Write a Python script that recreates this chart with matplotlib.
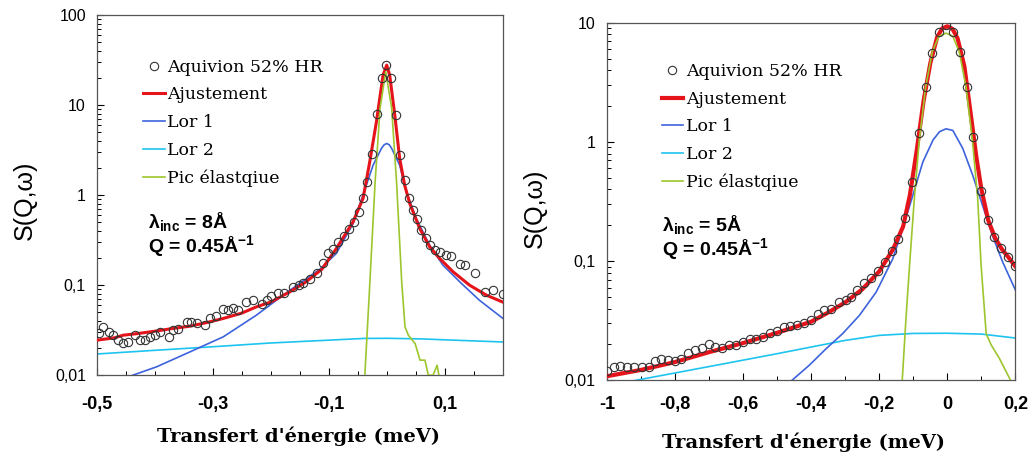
import matplotlib
matplotlib.use('Agg')
import matplotlib.pyplot as plt
from matplotlib.ticker import FixedLocator, FixedFormatter, MultipleLocator, LogLocator, NullFormatter

plt.rcParams['mathtext.fontset'] = 'custom'
plt.rcParams['mathtext.rm'] = 'Liberation Sans:bold'
plt.rcParams['mathtext.bf'] = 'Liberation Sans:bold'
plt.rcParams['mathtext.it'] = 'Liberation Sans:bold'

# ---- left panel (lambda = 8 A) ----
left_obs_e = [-0.496, -0.489, -0.480, -0.472, -0.463, -0.455, -0.446, -0.434, -0.426, -0.417,
              -0.409, -0.400, -0.391, -0.376, -0.368, -0.360, -0.345, -0.337, -0.328, -0.314,
              -0.305, -0.295, -0.282, -0.274, -0.265, -0.256, -0.242, -0.231, -0.216, -0.207,
              -0.199, -0.187, -0.178, -0.161, -0.152, -0.144, -0.132, -0.121, -0.110, -0.101,
              -0.0926, -0.084, -0.0742, -0.065, -0.0563, -0.0477, -0.0408, -0.0333, -0.0253, -0.0166,
              -0.0074, -0.0005, 0.0081, 0.0167, 0.0224, 0.031, 0.0385, 0.0454, 0.0523, 0.0598,
              0.0672, 0.0741, 0.0828, 0.0914, 0.1017, 0.1115, 0.126, 0.1345, 0.1517, 0.169,
              0.184, 0.200]
left_obs_s = [0.0295, 0.0339, 0.0303, 0.0278, 0.0249, 0.0229, 0.0232, 0.0278, 0.0249, 0.0249,
              0.0267, 0.0278, 0.0303, 0.0267, 0.0321, 0.0330, 0.0390, 0.0390, 0.0383, 0.0360,
              0.0437, 0.0450, 0.0550, 0.0530, 0.0560, 0.0530, 0.0650, 0.0680, 0.0615, 0.0690,
              0.0755, 0.0820, 0.0810, 0.0958, 0.100, 0.106, 0.116, 0.135, 0.175, 0.225,
              0.255, 0.303, 0.353, 0.426, 0.506, 0.653, 0.93, 1.41, 2.83, 7.9,
              19.8, 27.8, 19.8, 7.7, 2.8, 1.47, 0.93, 0.69, 0.54, 0.41,
              0.336, 0.278, 0.245, 0.234, 0.216, 0.21, 0.174, 0.167, 0.135, 0.084,
              0.088, 0.079]

left_fit_e = [-0.5, -0.47, -0.455, -0.43, -0.397, -0.37, -0.34, -0.31, -0.282, -0.25, -0.225,
              -0.2, -0.167, -0.14, -0.112, -0.087, -0.058, -0.0408, -0.0293, -0.0178, -0.0063,
              0.0, 0.0052, 0.014, 0.0224, 0.031, 0.0397, 0.057, 0.0741, 0.0914, 0.1144,
              0.143, 0.172, 0.2]
left_fit_s = [0.0245, 0.026, 0.0278, 0.029, 0.031, 0.033, 0.035, 0.0385, 0.0427, 0.049, 0.0574,
              0.065, 0.0844, 0.108, 0.15, 0.255, 0.506, 0.92, 2.34, 6.5, 21.5,
              27.8, 21.5, 7.7, 2.55, 1.29, 0.81, 0.426, 0.267, 0.198, 0.141,
              0.100, 0.0775, 0.065]

left_lor1_e = [-0.452, -0.397, -0.34, -0.282, -0.225, -0.167, -0.1155, -0.087, -0.058, -0.041,
               -0.0235, -0.0092, -0.0045, 0.0, 0.0045, 0.0086, 0.0224, 0.034, 0.0511, 0.0741,
               0.097, 0.126, 0.160, 0.2]
left_lor1_s = [0.0093, 0.0124, 0.0181, 0.0267, 0.0464, 0.088, 0.15, 0.225, 0.484, 1.0,
               2.15, 3.3, 3.62, 3.75, 3.62, 3.3, 2.15, 1.09, 0.55, 0.278,
               0.167, 0.109, 0.068, 0.043]

left_lor2_e = [-0.5, -0.4, -0.3, -0.2, -0.1, -0.04, 0.0, 0.06, 0.13, 0.2]
left_lor2_s = [0.0172, 0.0189, 0.0207, 0.0228, 0.0245, 0.0256, 0.0257, 0.0253, 0.0243, 0.0234]

left_elas_e = [-0.0379, -0.029, -0.020, -0.0115, -0.0017, 0.0086, 0.017, 0.0259, 0.0316,
               0.0374, 0.049, 0.0575, 0.066, 0.0718, 0.080, 0.087, 0.0914]
left_elas_s = [0.0095, 0.109, 1.4, 9.2, 23.5, 9.2, 1.4, 0.109, 0.0344,
               0.0278, 0.0225, 0.0147, 0.0147, 0.0100, 0.0100, 0.0129, 0.0090]

left_xticks = [-0.5, -0.3, -0.1, 0.1]
left_xlabels = ['-0,5', '-0,3', '-0,1', '0,1']
left_yticks = [0.01, 0.1, 1, 10, 100]
left_ylabels = ['0,01', '0,1', '1', '10', '100']

# ---- right panel (lambda = 5 A) ----
right_obs_e = [-0.999, -0.980, -0.960, -0.940, -0.921, -0.898, -0.877, -0.859, -0.840, -0.820,
               -0.801, -0.781, -0.761, -0.740, -0.720, -0.700, -0.681, -0.661, -0.640, -0.620,
               -0.600, -0.581, -0.561, -0.540, -0.520, -0.500, -0.481, -0.461, -0.442, -0.422,
               -0.400, -0.381, -0.361, -0.342, -0.319, -0.298, -0.283, -0.264, -0.244, -0.225,
               -0.204, -0.184, -0.164, -0.144, -0.124, -0.103, -0.083, -0.064, -0.044, -0.025,
               -0.004, 0.016, 0.037, 0.059, 0.076, 0.099, 0.119, 0.138, 0.158, 0.178, 0.200]
right_obs_s = [0.0120, 0.0128, 0.0131, 0.0129, 0.0129, 0.0129, 0.0128, 0.0145, 0.0152, 0.0149,
               0.0145, 0.0152, 0.0168, 0.0181, 0.0188, 0.0203, 0.0190, 0.0187, 0.0197, 0.0198,
               0.0210, 0.0220, 0.0224, 0.0230, 0.0247, 0.0260, 0.0280, 0.0283, 0.0290, 0.0300,
               0.0319, 0.0359, 0.0389, 0.0395, 0.0455, 0.0470, 0.0500, 0.0570, 0.0650, 0.0715,
               0.0825, 0.0990, 0.122, 0.153, 0.229, 0.464, 1.20, 2.90, 5.60, 8.30,
               9.60, 8.30, 5.70, 2.90, 1.11, 0.390, 0.221, 0.160, 0.128, 0.109, 0.0915]

right_fit_e = [-1.0, -0.9, -0.8, -0.7, -0.6, -0.5, -0.4, -0.35, -0.3, -0.25, -0.2, -0.16, -0.13,
               -0.11, -0.09, -0.07, -0.05, -0.03, -0.015, 0.0, 0.015, 0.03, 0.05, 0.07, 0.085,
               0.1, 0.12, 0.14, 0.16, 0.18, 0.2]
right_fit_s = [0.0108, 0.0122, 0.0142, 0.0172, 0.0205, 0.025, 0.031, 0.037, 0.045, 0.058, 0.082,
               0.125, 0.195, 0.36, 0.85, 2.2, 4.6, 7.6, 9.0, 9.35, 8.9, 7.4, 4.3, 1.6, 0.75,
               0.40, 0.22, 0.157, 0.126, 0.107, 0.09]

right_lor1_e = [-0.465, -0.405, -0.356, -0.307, -0.258, -0.209, -0.160, -0.131, -0.101, -0.072,
                -0.042, -0.023, -0.004, 0.016, 0.045, 0.074, 0.103, 0.132, 0.162, 0.2]
right_lor1_s = [0.0095, 0.0134, 0.0184, 0.0247, 0.0351, 0.055, 0.105, 0.188, 0.36, 0.68,
                1.04, 1.22, 1.29, 1.25, 0.885, 0.53, 0.295, 0.165, 0.0987, 0.057]

right_lor2_e = [-0.93, -0.8, -0.63, -0.5, -0.4, -0.3, -0.2, -0.1, 0.0, 0.1, 0.2]
right_lor2_s = [0.0098, 0.0115, 0.0142, 0.0167, 0.0190, 0.0216, 0.0238, 0.0247, 0.0248, 0.0244, 0.0226]

right_elas_e = [-0.133, -0.121, -0.111, -0.097, -0.083, -0.064, -0.044, -0.025, -0.004, 0.016,
                0.035, 0.055, 0.074, 0.089, 0.099, 0.114, 0.129, 0.153, 0.187]
right_elas_s = [0.0095, 0.0351, 0.0925, 0.336, 1.0, 2.87, 5.75, 7.7, 8.2, 7.7,
                5.7, 2.87, 1.0, 0.336, 0.0925, 0.0245, 0.0197, 0.0152, 0.0098]

right_xticks = [-1.0, -0.8, -0.6, -0.4, -0.2, 0.0, 0.2]
right_xlabels = ['-1', '-0,8', '-0,6', '-0,4', '-0,2', '0', '0,2']
right_yticks = [0.01, 0.1, 1, 10]
right_ylabels = ['0,01', '0,1', '1', '10']

labels = ['Aquivion 52% HR', 'Ajustement', 'Lor 1', 'Lor 2', 'Pic élastqiue']

RED = '#e5141b'
BLUE = '#3d63dc'
CYAN = '#1ec4ef'
GREEN = '#9dc62e'


def draw_panel(ax, obs, fit, lor1, lor2, elas, xlim, ylim, xticks, xlabels, xminor,
               yticks, ylabels, fit_lw, leg_anchor, lam_text, txt_pos, xpad):
    l2, = ax.plot(*lor2, color=CYAN, lw=1.2, zorder=2)
    l1, = ax.plot(*lor1, color=BLUE, lw=1.2, zorder=2)
    fl, = ax.plot(*fit, color=RED, lw=fit_lw, zorder=3)
    el, = ax.plot(*elas, color=GREEN, lw=1.2, zorder=4)
    ob, = ax.plot(*obs, 'o', mfc='none', mec='#333333', ms=6, mew=0.8, zorder=5)

    ax.set_yscale('log')
    ax.set_xlim(*xlim)
    ax.set_ylim(*ylim)
    ax.yaxis.set_major_locator(FixedLocator(yticks))
    ax.yaxis.set_major_formatter(FixedFormatter(ylabels))
    ax.yaxis.set_minor_locator(LogLocator(base=10, subs=range(2, 10)))
    ax.yaxis.set_minor_formatter(NullFormatter())
    ax.xaxis.set_major_locator(FixedLocator(xticks))
    ax.xaxis.set_major_formatter(FixedFormatter(xlabels))
    ax.xaxis.set_minor_locator(MultipleLocator(xminor))
    ax.tick_params(axis='both', which='both', direction='in', top=False, right=False)
    ax.tick_params(axis='both', which='major', length=5, width=0.8)
    ax.tick_params(axis='both', which='minor', length=3, width=0.7)
    ax.tick_params(axis='y', which='major', labelsize=11.5, pad=8)
    ax.tick_params(axis='x', which='major', labelsize=13, pad=xpad)
    for t in ax.get_yticklabels():
        t.set_family('Liberation Sans')
    for t in ax.get_xticklabels():
        t.set_family('Liberation Sans')
        t.set_fontweight('bold')
    for s in ax.spines.values():
        s.set_color('#555555')
        s.set_linewidth(0.9)

    ax.legend([ob, fl, l1, l2, el], labels, loc='upper left', bbox_to_anchor=leg_anchor,
              frameon=False, borderpad=0, borderaxespad=0, handlelength=1.25,
              handletextpad=0.15, labelspacing=0.62,
              prop={'family': 'DejaVu Serif', 'size': 12.5})

    ax.text(txt_pos[0], txt_pos[1] + 0.003, r'$\mathbf{λ_{inc}}$' + ' = ' + lam_text,
            transform=ax.transAxes, family='Liberation Sans', fontweight='bold', fontsize=14,
            va='center', ha='left')
    ax.text(txt_pos[0], txt_pos[1] - 0.066, 'Q = 0.45Å' + r'$^{\mathbf{-1}}$',
            transform=ax.transAxes, family='Liberation Sans', fontweight='bold', fontsize=14,
            va='center', ha='left')


fig = plt.figure(figsize=(10.32, 4.57), dpi=100)
ax1 = fig.add_axes([0.094, 0.179, 0.393, 0.788])
ax2 = fig.add_axes([0.588, 0.168, 0.396, 0.782])

draw_panel(ax1, (left_obs_e, left_obs_s), (left_fit_e, left_fit_s), (left_lor1_e, left_lor1_s),
           (left_lor2_e, left_lor2_s), (left_elas_e, left_elas_s), (-0.5, 0.2), (0.01, 100),
           left_xticks, left_xlabels, 0.05, left_yticks, left_ylabels, 2.2, (0.113, 0.879),
           '8Å', (0.125, 0.424), 15)
draw_panel(ax2, (right_obs_e, right_obs_s), (right_fit_e, right_fit_s), (right_lor1_e, right_lor1_s),
           (right_lor2_e, right_lor2_s), (right_elas_e, right_elas_s), (-1.0, 0.2), (0.01, 10),
           right_xticks, right_xlabels, 0.1, right_yticks, right_ylabels, 3.0, (0.134, 0.888),
           '5Å', (0.135, 0.434), 11)

fig.text(0.024, 0.562, 'S(Q,ω)', rotation=90, ha='center', va='center',
         family='Liberation Sans', fontsize=18)
fig.text(0.518, 0.545, 'S(Q,ω)', rotation=90, ha='center', va='center',
         family='Liberation Sans', fontsize=18)
fig.text(0.289, 0.046, "Transfert d'énergie (meV)", ha='center', va='center',
         family='DejaVu Serif', fontweight='bold', fontsize=14)
fig.text(0.779, 0.033, "Transfert d'énergie (meV)", ha='center', va='center',
         family='DejaVu Serif', fontweight='bold', fontsize=14)

fig.savefig('out.png', dpi=100)
